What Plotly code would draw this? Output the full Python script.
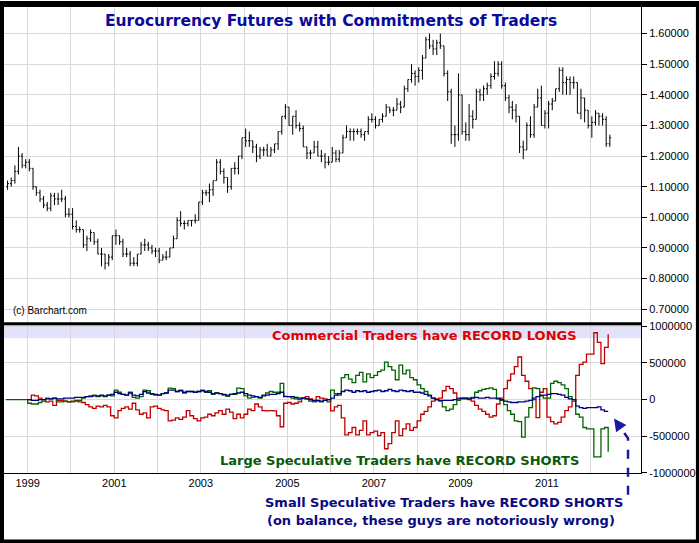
import pandas as pd
import plotly.graph_objects as go
from plotly.subplots import make_subplots

# monthly euro futures bars, Jul 1998 .. Jun 2012
price_close = [
    1.11, 1.12, 1.15, 1.20, 1.17, 1.18,
    1.16, 1.10, 1.08, 1.06, 1.04, 1.03, 1.07, 1.06, 1.06, 1.06, 1.01, 1.01,
    0.97, 0.96, 0.96, 0.91, 0.93, 0.95, 0.92, 0.88, 0.88, 0.85, 0.87, 0.94,
    0.94, 0.92, 0.88, 0.88, 0.85, 0.85, 0.88, 0.91, 0.91, 0.90, 0.89, 0.89,
    0.86, 0.87, 0.87, 0.90, 0.93, 0.99, 0.98, 0.98, 0.99, 0.99, 0.99, 1.05,
    1.08, 1.08, 1.09, 1.12, 1.18, 1.15, 1.13, 1.10, 1.16, 1.16, 1.20, 1.26,
    1.25, 1.25, 1.23, 1.20, 1.22, 1.22, 1.20, 1.22, 1.24, 1.28, 1.33, 1.36,
    1.30, 1.33, 1.30, 1.29, 1.23, 1.21, 1.21, 1.23, 1.20, 1.20, 1.18, 1.18,
    1.21, 1.19, 1.21, 1.26, 1.28, 1.28, 1.28, 1.28, 1.27, 1.28, 1.32, 1.32,
    1.30, 1.32, 1.33, 1.36, 1.35, 1.35, 1.37, 1.36, 1.42, 1.45, 1.47, 1.46,
    1.48, 1.52, 1.58, 1.56, 1.55, 1.57, 1.56, 1.47, 1.41, 1.27, 1.27, 1.40,
    1.28, 1.27, 1.33, 1.32, 1.41, 1.40, 1.42, 1.43, 1.46, 1.47, 1.50, 1.43,
    1.39, 1.36, 1.35, 1.33, 1.23, 1.22, 1.30, 1.27, 1.36, 1.39, 1.30, 1.34,
    1.37, 1.38, 1.42, 1.48, 1.44, 1.45, 1.44, 1.44, 1.34, 1.39, 1.35, 1.30,
    1.31, 1.34, 1.33, 1.32, 1.24, 1.26,
]
price_high = [
    1.12, 1.13, 1.17, 1.23, 1.21, 1.19,
    1.19, 1.16, 1.10, 1.09, 1.07, 1.05, 1.08, 1.08, 1.08, 1.09, 1.07, 1.03,
    1.03, 0.99, 0.97, 0.96, 0.94, 0.96, 0.95, 0.93, 0.90, 0.88, 0.88, 0.94,
    0.96, 0.94, 0.93, 0.90, 0.89, 0.87, 0.88, 0.92, 0.93, 0.92, 0.91, 0.90,
    0.90, 0.88, 0.89, 0.90, 0.94, 1.00, 1.02, 0.99, 0.99, 0.99, 1.01, 1.05,
    1.09, 1.09, 1.11, 1.12, 1.19, 1.19, 1.16, 1.13, 1.16, 1.18, 1.20, 1.26,
    1.29, 1.28, 1.25, 1.24, 1.23, 1.23, 1.24, 1.23, 1.24, 1.28, 1.33, 1.37,
    1.36, 1.33, 1.35, 1.31, 1.30, 1.23, 1.22, 1.25, 1.25, 1.22, 1.21, 1.20,
    1.23, 1.22, 1.22, 1.27, 1.30, 1.29, 1.29, 1.29, 1.29, 1.28, 1.33, 1.34,
    1.33, 1.32, 1.34, 1.37, 1.36, 1.36, 1.39, 1.38, 1.43, 1.45, 1.50, 1.48,
    1.49, 1.53, 1.59, 1.60, 1.58, 1.58, 1.60, 1.56, 1.48, 1.42, 1.30, 1.47,
    1.40, 1.31, 1.37, 1.35, 1.42, 1.42, 1.43, 1.44, 1.47, 1.51, 1.51, 1.51,
    1.44, 1.40, 1.38, 1.37, 1.33, 1.25, 1.31, 1.33, 1.37, 1.42, 1.43, 1.35,
    1.38, 1.39, 1.42, 1.49, 1.49, 1.46, 1.46, 1.46, 1.44, 1.42, 1.39, 1.35,
    1.33, 1.35, 1.34, 1.34, 1.33, 1.27,
]
price_low = [
    1.09, 1.10, 1.11, 1.14, 1.16, 1.16,
    1.15, 1.09, 1.07, 1.05, 1.03, 1.02, 1.02, 1.04, 1.04, 1.05, 1.00, 1.00,
    0.96, 0.95, 0.95, 0.90, 0.89, 0.92, 0.91, 0.88, 0.84, 0.83, 0.84, 0.86,
    0.91, 0.91, 0.87, 0.87, 0.84, 0.84, 0.84, 0.88, 0.89, 0.89, 0.88, 0.87,
    0.85, 0.86, 0.86, 0.87, 0.90, 0.93, 0.97, 0.96, 0.97, 0.97, 0.98, 0.99,
    1.04, 1.07, 1.05, 1.07, 1.12, 1.14, 1.11, 1.08, 1.09, 1.14, 1.14, 1.19,
    1.23, 1.23, 1.21, 1.18, 1.19, 1.20, 1.20, 1.20, 1.21, 1.22, 1.27, 1.32,
    1.30, 1.27, 1.29, 1.28, 1.23, 1.19, 1.19, 1.21, 1.20, 1.18, 1.16, 1.17,
    1.18, 1.18, 1.18, 1.21, 1.26, 1.25, 1.25, 1.27, 1.26, 1.25, 1.27, 1.31,
    1.29, 1.30, 1.31, 1.33, 1.34, 1.33, 1.35, 1.34, 1.36, 1.41, 1.44, 1.43,
    1.44, 1.45, 1.52, 1.55, 1.53, 1.53, 1.55, 1.46, 1.38, 1.24, 1.23, 1.25,
    1.27, 1.25, 1.25, 1.29, 1.32, 1.38, 1.38, 1.40, 1.42, 1.45, 1.46, 1.42,
    1.38, 1.34, 1.32, 1.31, 1.21, 1.19, 1.22, 1.26, 1.26, 1.36, 1.30, 1.29,
    1.29, 1.35, 1.38, 1.41, 1.40, 1.40, 1.40, 1.42, 1.34, 1.32, 1.31, 1.29,
    1.26, 1.30, 1.30, 1.30, 1.23, 1.23,
]
price_open = [1.10] + price_close[:-1]
price_dates = pd.date_range("1998-07-01", periods=len(price_close), freq="MS") + pd.Timedelta(days=14)

# commitments of traders, net positions in thousands of contracts, Jul 1998 .. Jun 2012
commercial = [None] * 6 + [
    0, 60, 50, 20, 0, -30, -20, -80, -10, -10, -20, -30,
    -20, -10, -30, -40, -70, -100, -120, -90, -100, -80, -100, -220,
    -250, -150, -120, -100, -130, -50, -140, -200, -180, -250, -100, -90,
    -120, -140, -150, -290, -280, -250, -270, -240, -150, -220, -260, -290,
    -250, -240, -200, -220, -180, -150, -200, -130, -170, -260, -200, -250,
    -200, -130, -150, -60, -100, -150, -155, -150, -155, -220, -370, -50,
    -40, -60, -50, -30, 20, 40, 10, -20, 40, 20, 10, 0,
    -155, -100, -80, -250, -480, -450, -380, -480, -420, -290, -480, -450,
    -430, -490, -450, -670, -600, -450, -290, -490, -400, -330, -420, -380,
    -290, -200, -160, -100, -20, 10, 20, 120, 180, 150, 90, 20,
    20, 10, 0, -20, -80, -130, -160, -200, -240, -220, -60, 20,
    150, 260, 350, 450, 580, 330, 250, 150, 0, -245, 100, 150,
    -240, -300, -330, -310, -240, -150, -100, -20, 330, 480, 510, 620,
    620, 910, 780, 490, 710, 890,
]
large_spec = [0] * 6 + [
    -50, -60, -60, -40, -20, 20, 10, 20, -30, -30, -20, -30,
    -30, -20, -10, 20, 40, 50, 60, 40, 50, 40, 60, 50,
    130, 100, 70, 60, 100, 30, 20, 40, 130, 120, 70, 60,
    60, 80, 90, 155, 150, 110, 130, 90, 110, 110, 100, 110,
    130, 100, 120, 70, 90, 80, 60, 45, 70, 70, 155, 150,
    50, 20, 30, 40, 20, 60, 90, 110, 100, 100, 220, 45,
    40, 20, 10, 0, 20, 10, -20, -30, -20, -30, -10, -30,
    130, 80, 60, 300, 340, 280, 230, 330, 370, 240, 350, 300,
    330, 380, 400, 510, 450, 400, 270, 470, 350, 400, 300, 270,
    200, 150, 110, 60, 20, 0, -20, -100, -150, -130, -70, -10,
    10, 20, 20, 30, 100, 120, 140, 150, 160, 140, 20, -10,
    -70, -150, -200, -290, -300, -510, -240, -110, 160, 150, 50, 20,
    20, 220, 250, 230, 200, 150, 40, 0, -200, -240, -380, -400,
    -400, -780, -780, -400, -380, -710,
]
small_spec = [None] * 6 + [
    0, -10, -10, 0, 0, 10, 10, 20, 10, 10, 20, 20,
    20, 30, 30, 30, 40, 40, 50, 50, 60, 50, 60, 70,
    100, 80, 70, 60, 90, 60, 50, 70, 110, 90, 80, 70,
    60, 80, 90, 130, 130, 110, 120, 100, 110, 110, 100, 110,
    120, 110, 100, 80, 90, 80, 70, 60, 70, 80, 90, 100,
    80, 60, 50, 40, 30, 50, 60, 70, 70, 80, 100, 40,
    40, 40, 30, 20, 20, 10, 0, -10, -10, -20, -10, 0,
    20, 60, 80, 110, 130, 120, 100, 120, 110, 120, 100, 110,
    120, 130, 110, 120, 140, 120, 110, 130, 120, 110, 120, 100,
    100, 90, 70, 50, 20, 0, -10, -10, -10, -10, 0, 10,
    20, 20, 10, 20, 30, 20, 20, 30, 20, 20, 10, 0,
    -20, -30, -40, -40, -30, -30, -20, -10, 20, 40, 60, 60,
    70, 80, 80, 70, 60, 30, 10, 0, -90, -110, -120, -110,
    -110, -110, -100, -140, -160, -160,
]
cot_dates = pd.date_range("1998-07-01", periods=len(large_spec), freq="MS")

year_ticks = [f"{y}-01-01" for y in range(1999, 2013)]
year_text = [str(y) if y % 2 == 1 else "" for y in range(1999, 2013)]

W, H = 699, 543
L, R, T, B = 3, 58, 3, 70
PW, PH = W - L - R, H - T - B


def px(x):
    return (x - L) / PW


def py(y):
    return (H - B - y) / PH


fig = make_subplots(rows=2, cols=1, shared_xaxes=True, vertical_spacing=0.003,
                    row_heights=[0.68, 0.32])

fig.add_trace(go.Ohlc(x=price_dates, open=price_open, high=price_high,
                      low=price_low, close=price_close, tickwidth=0.4,
                      increasing_line_color="black", decreasing_line_color="black",
                      line_width=1, showlegend=False, hoverinfo="skip"),
              row=1, col=1)

for vals, col in [(commercial, "#c00000"), (large_spec, "#006400"), (small_spec, "#000080")]:
    fig.add_trace(go.Scatter(x=cot_dates, y=[v * 1000 if v is not None else None for v in vals],
                             mode="lines", line=dict(color=col, width=1.3, shape="hv"),
                             showlegend=False, hoverinfo="skip"),
                  row=2, col=1)

font = "Liberation Sans"
grid = "#d9d9d9"
fig.update_xaxes(range=["1998-06-15", "2013-03-05"], tickvals=year_ticks, showgrid=True,
                 gridcolor=grid, rangeslider_visible=False, showline=True,
                 linecolor="black", linewidth=1, mirror=True, zeroline=False)
fig.update_xaxes(ticktext=year_text, tickfont=dict(family=font, size=11, color="black"),
                 ticks="", row=2, col=1)
fig.update_xaxes(showticklabels=False, row=1, col=1)
fig.update_yaxes(side="right", showgrid=True, gridcolor=grid, ticks="outside", ticklen=5,
                 tickcolor="black", showline=True, linecolor="black", linewidth=1,
                 mirror=True, zeroline=False,
                 tickfont=dict(family=font, size=11, color="black"))
fig.update_yaxes(range=[0.655, 1.687], dtick=0.1, tick0=0.7, tickformat=".5f", row=1, col=1)
fig.update_yaxes(range=[-1000000, 1025000], tickvals=[-1000000, -500000, 0, 500000, 1000000],
                 ticktext=["-1000000", "-500000", "0", "500000", "1000000"], row=2, col=1)

shapes = [
    dict(type="rect", xref="x2 domain", yref="y2", x0=0, x1=1, y0=835000, y1=1025000,
         fillcolor="#e2e2fa", line_width=0, layer="below"),
    dict(type="line", xref="paper", yref="paper", x0=0, x1=1, y0=py(322.5), y1=py(322.5),
         line=dict(color="black", width=3)),
    dict(type="rect", xref="paper", yref="paper", x0=px(0), x1=px(W), y0=py(H), y1=py(0),
         line=dict(color="black", width=6)),
    dict(type="path", xref="paper", yref="paper",
         path=f"M {px(628)},{py(495)} L {px(628)},{py(438)} L {px(621)},{py(428)}",
         line=dict(color="#1a1aa0", width=2.5, dash="dash")),
]

bold = "DejaVu Sans"
anns = [
    dict(text="<b>Eurocurrency Futures with Commitments of Traders</b>", x=px(331), y=py(17),
         font=dict(family=bold, size=15.5, color="#0a0aa0")),
    dict(text="(c) Barchart.com", x=px(10), y=py(309), xanchor="left",
         font=dict(family=font, size=10, color="black")),
    dict(text="<b>Commercial Traders have RECORD LONGS</b>", x=px(579), y=py(334), xanchor="right",
         font=dict(family=bold, size=13, color="#e00000")),
    dict(text="<b>Large Speculative Traders have RECORD SHORTS</b>", x=px(581), y=py(460),
         xanchor="right", font=dict(family=bold, size=13, color="#0a5a0a")),
    dict(text="<b>Small Speculative Traders have RECORD SHORTS</b>", x=px(625), y=py(503),
         xanchor="right", font=dict(family=bold, size=13, color="#0a0a80")),
    dict(text="<b>(on balance, these guys are notoriously wrong)</b>", x=px(617), y=py(521),
         xanchor="right", font=dict(family=bold, size=13, color="#0a0a80")),
    dict(text="", x=px(614), y=py(418), ax=7, ay=10, showarrow=True, arrowhead=2,
         arrowsize=1, arrowwidth=2.5, arrowcolor="#1a1aa0"),
]
for a in anns:
    a.setdefault("showarrow", False)
    a.setdefault("yanchor", "middle")
    a.update(xref="paper", yref="paper")

fig.update_layout(width=W, height=H, margin=dict(l=L, r=R, t=T, b=B),
                  paper_bgcolor="white", plot_bgcolor="white",
                  shapes=shapes, annotations=anns)

fig.write_html("out.html", config={"displayModeBar": False},
               post_script="document.body.style.margin='0';document.body.style.overflow='hidden';")
